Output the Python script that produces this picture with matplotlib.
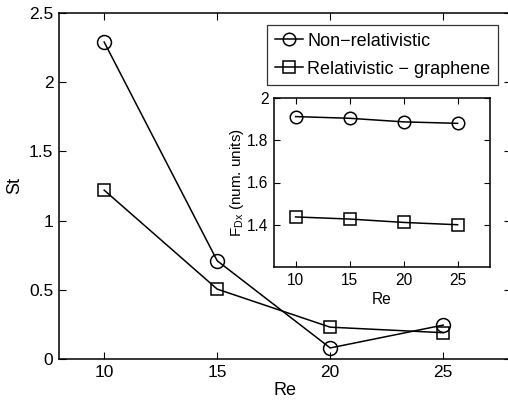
import matplotlib
matplotlib.use("Agg")
import matplotlib.pyplot as plt

# data
re = [10, 15, 20, 25]
st_nonrel = [2.29, 0.71, 0.08, 0.245]
st_graphene = [1.22, 0.505, 0.23, 0.19]
fdx_nonrel = [1.912, 1.904, 1.887, 1.880]
fdx_graphene = [1.437, 1.427, 1.411, 1.400]

plt.rcParams['font.family'] = ['Liberation Sans', 'DejaVu Sans']
plt.rcParams['axes.linewidth'] = 1.1

fig = plt.figure(figsize=(5.08, 4.0), dpi=100)

# main axes (right spine falls just outside the image, as in the original)
ax = fig.add_axes([0.1161, 0.1025, 0.8898, 0.865])
ax.plot(re, st_nonrel, '-o', color='k', mfc='none', ms=10, lw=1.1, mew=1.1,
        label='Non\u2212relativistic')
ax.plot(re, st_graphene, '-s', color='k', mfc='none', ms=9, lw=1.1, mew=1.1,
        label='Relativistic \u2212 graphene')
ax.set_xlim(8, 28)
ax.set_ylim(0, 2.5)
ax.set_xticks([10, 15, 20, 25])
ax.set_yticks([0, 0.5, 1, 1.5, 2, 2.5])
ax.set_yticklabels(['0', '0.5', '1', '1.5', '2', '2.5'])
ax.tick_params(direction='in', length=5, width=0.8, labelsize=12.5,
               top=True, right=True, pad=4)
ax.set_xlabel('Re', fontsize=13, labelpad=2)
ax.set_ylabel('St', fontsize=13, labelpad=4)

leg = ax.legend(loc='upper left', bbox_to_anchor=(0.4602, 0.9653), fontsize=13,
                frameon=True, fancybox=False, edgecolor='k', borderpad=0.42,
                handlelength=1.55, handletextpad=0.25, labelspacing=0.62,
                borderaxespad=0, markerscale=0.9)
leg.get_frame().set_linewidth(0.9)

# inset axes
ins = fig.add_axes([0.5394, 0.3325, 0.4252, 0.4225])
ins.plot(re, fdx_nonrel, '-o', color='k', mfc='none', ms=9, lw=1.1, mew=1.1)
ins.plot(re, fdx_graphene, '-s', color='k', mfc='none', ms=8, lw=1.1, mew=1.1)
ins.set_xlim(8, 28)
ins.set_ylim(1.2, 2.0)
ins.set_xticks([10, 15, 20, 25])
ins.set_yticks([1.4, 1.6, 1.8, 2.0])
ins.set_yticklabels(['1.4', '1.6', '1.8', '2'])
ins.tick_params(direction='in', length=4, width=0.8, labelsize=11.2,
                top=True, right=True, pad=4)
ins.set_xlabel('Re', fontsize=11.2, labelpad=3)
ins.set_ylabel(r'F$_{\mathregular{Dx}}$ (num. units)', fontsize=11, labelpad=1)

fig.savefig('out.png', dpi=100)
